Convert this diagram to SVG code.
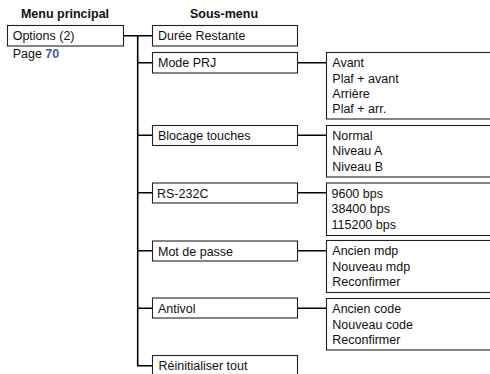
<svg xmlns="http://www.w3.org/2000/svg" width="490" height="374" viewBox="0 0 490 374">
<style>
.box{fill:#fff;stroke:#222;stroke-width:1.1}
.t{font-family:"Liberation Sans",Arial,sans-serif;font-size:12.5px;fill:#111}
.h{font-family:"Liberation Sans",Arial,sans-serif;font-size:12.5px;font-weight:bold;fill:#111}
.c{fill:none;stroke:#000;stroke-width:1.6}
</style>
<rect width="490" height="374" fill="#fff"/>
<text class="h" x="65" y="17.5" text-anchor="middle">Menu principal</text>
<text class="h" x="224" y="17.5" text-anchor="middle">Sous-menu</text>
<g id="connectors">
<path class="c" d="M123.5 35.7H152.5M137.7 35.7V365.7H152.5M137.7 62.7H152.5M137.7 135.3H152.5M137.7 192.7H152.5M137.7 250.7H152.5M137.7 308.3H152.5"/>
<path class="c" d="M297.5 62.7H326.5M297.5 135.3H326.5M297.5 192.7H326.5M297.5 250.7H326.5M297.5 308.3H326.5"/>
</g>
<g id="options">
<rect class="box" x="7.5" y="25.5" width="116" height="20.5"/>
<text class="t" x="12.7" y="39.8">Options (2)</text>
<text class="t" x="12.7" y="58">Page <tspan font-weight="bold" fill="#4a5aad">70</tspan></text>
</g>
<g id="duree">
<rect class="box" x="152.5" y="25.5" width="145" height="20.5"/>
<text class="t" x="158" y="40.3">Durée Restante</text>
</g>
<g id="modeprj">
<rect class="box" x="152.5" y="52.5" width="145" height="20.5"/>
<text class="t" x="158" y="67">Mode PRJ</text>
</g>
<g id="modeprj-opts">
<rect class="box" x="326.5" y="52.5" width="170" height="66.5"/>
<text class="t" x="332.3" y="67">Avant</text>
<text class="t" x="332.3" y="82.5">Plaf + avant</text>
<text class="t" x="332.3" y="98">Arrière</text>
<text class="t" x="332.3" y="113.3">Plaf + arr.</text>
</g>
<g id="blocage">
<rect class="box" x="152.5" y="125.5" width="145" height="20"/>
<text class="t" x="158" y="140">Blocage touches</text>
</g>
<g id="blocage-opts">
<rect class="box" x="326.5" y="125.5" width="170" height="51.5"/>
<text class="t" x="332.3" y="139.5">Normal</text>
<text class="t" x="332.3" y="155">Niveau A</text>
<text class="t" x="332.3" y="170.5">Niveau B</text>
</g>
<g id="rs232c">
<rect class="box" x="152.5" y="183" width="145" height="20"/>
<text class="t" x="157" y="197.5">RS-232C</text>
</g>
<g id="rs232c-opts">
<rect class="box" x="326.5" y="183" width="170" height="52.5"/>
<text class="t" x="331.5" y="197.5">9600 bps</text>
<text class="t" x="331.5" y="213">38400 bps</text>
<text class="t" x="331.5" y="228.5">115200 bps</text>
</g>
<g id="motdepasse">
<rect class="box" x="152.5" y="241" width="145" height="20"/>
<text class="t" x="158" y="255.5">Mot de passe</text>
</g>
<g id="motdepasse-opts">
<rect class="box" x="326.5" y="240.5" width="170" height="52"/>
<text class="t" x="332.3" y="255">Ancien mdp</text>
<text class="t" x="332.3" y="270.5">Nouveau mdp</text>
<text class="t" x="332.3" y="286">Reconfirmer</text>
</g>
<g id="antivol">
<rect class="box" x="152.5" y="298" width="145" height="20"/>
<text class="t" x="158" y="312.5">Antivol</text>
</g>
<g id="antivol-opts">
<rect class="box" x="326.5" y="298.5" width="170" height="51.5"/>
<text class="t" x="332.3" y="313">Ancien code</text>
<text class="t" x="332.3" y="328.5">Nouveau code</text>
<text class="t" x="332.3" y="344">Reconfirmer</text>
</g>
<g id="reinit">
<rect class="box" x="152.5" y="355.5" width="145" height="25"/>
<text class="t" x="158.5" y="370">Réinitialiser tout</text>
</g>
</svg>
